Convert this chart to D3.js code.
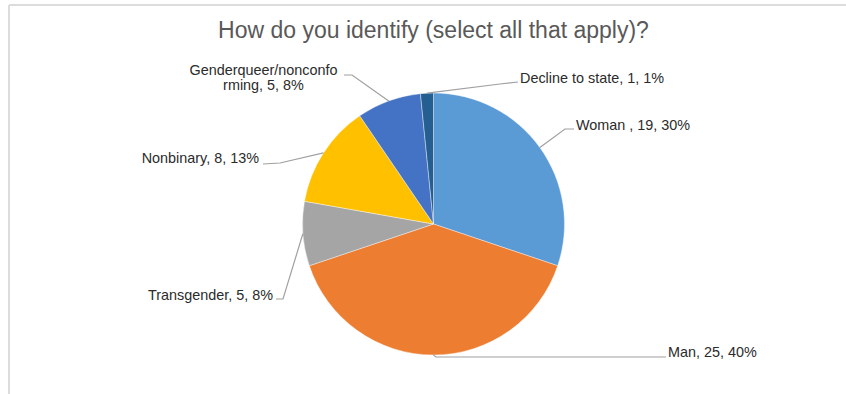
<!doctype html>
<html lang="en">
  <head>
    <meta charset="utf-8">
    <title>How do you identify (select all that apply)?</title>
    <style>
      body { margin: 0; background: #fff; }
      svg { display: block; font-family: "Liberation Sans", Arial, sans-serif; }
    </style>
  </head>
  <body>
    <div id="chart"></div>

    <script src="https://d3js.org/d3.v7.min.js"></script>
    <script>
    // data
    var categories = ["Woman ", "Man", "Transgender", "Nonbinary", "Genderqueer/nonconforming", "Decline to state"];
    var counts = [19, 25, 5, 8, 5, 1];
    var percents = ["30%", "40%", "8%", "13%", "8%", "1%"];
    var colors = ["#5b9bd5", "#ed7d31", "#a5a5a5", "#ffc000", "#4472c4", "#255e91"];

    // label layout: elbow of the leader line, text anchor, and how the text lines break
    var labelLayout = [
      { elbow: [565, 129], end: [574, 129], tx: 576, ty: 130, anchor: "start", lines: null },
      { elbow: [436, 357], end: [666, 357], tx: 668, ty: 357, anchor: "start", lines: null },
      { elbow: [283, 299], end: [276, 299], tx: 273, ty: 300, anchor: "end", lines: null },
      { elbow: [280, 163], end: [263, 164], tx: 259, ty: 163, anchor: "end", lines: null },
      { elbow: [352, 75], end: [344, 75], tx: 263.5, ty: 75, anchor: "middle", lines: ["Genderqueer/nonconfo", "rming, 5, 8%"] },
      { elbow: [500, 84], end: [518, 82], tx: 520, ty: 83, anchor: "start", lines: null }
    ];

    var width = 846, height = 394;
    var cx = 433.5, cy = 224, radius = 131;

    var svg = d3.select("#chart").append("svg")
        .attr("width", width)
        .attr("height", height);

    // chart frame (cut off on the right in the reference)
    svg.append("line")
      .attr("x1", 9).attr("x2", width).attr("y1", 5).attr("y2", 5)
      .attr("stroke", "#dcdcdc").attr("stroke-width", 2);
    svg.append("line")
      .attr("x1", 9).attr("x2", 9).attr("y1", 5).attr("y2", height)
      .attr("stroke", "#dcdcdc").attr("stroke-width", 2);

    svg.append("text")
      .attr("x", cx)
      .attr("y", 38)
      .attr("text-anchor", "middle")
      .attr("font-size", "23px")
      .attr("fill", "#595959")
      .text("How do you identify (select all that apply)?");

    var slices = categories.map(function(c, i) {
      return { name: c, value: counts[i], pct: percents[i], color: colors[i], layout: labelLayout[i] };
    });

    var pie = d3.pie().sort(null).value(function(d) { return d.value; });
    var arc = d3.arc().innerRadius(0).outerRadius(radius);
    var edge = d3.arc().innerRadius(radius).outerRadius(radius);

    var g = svg.append("g").attr("transform", "translate(" + cx + "," + cy + ")");
    var arcs = pie(slices);

    g.selectAll("path.slice")
      .data(arcs)
      .join("path")
      .attr("class", "slice")
      .attr("d", arc)
      .attr("fill", function(d) { return d.data.color; })
      .attr("stroke", "#fff")
      .attr("stroke-width", 0.4);

    // leader lines from the slice edge to the label
    svg.selectAll("polyline.leader")
      .data(arcs)
      .join("polyline")
      .attr("class", "leader")
      .attr("points", function(d) {
        var p = edge.centroid(d);
        var L = d.data.layout;
        return [[cx + p[0], cy + p[1]], L.elbow, L.end].map(function(q) { return q.join(","); }).join(" ");
      })
      .attr("fill", "none")
      .attr("stroke", "#a0a0a0")
      .attr("stroke-width", 1.2);

    var labels = svg.selectAll("text.label")
      .data(arcs)
      .join("text")
      .attr("class", "label")
      .attr("x", function(d) { return d.data.layout.tx; })
      .attr("y", function(d) { return d.data.layout.ty; })
      .attr("text-anchor", function(d) { return d.data.layout.anchor; })
      .attr("font-size", "14.4px")
      .attr("fill", "#2b2b2b");

    labels.each(function(d) {
      var t = d3.select(this);
      var lines = d.data.layout.lines || [d.data.name + ", " + d.data.value + ", " + d.data.pct];
      lines.forEach(function(s, i) {
        t.append("tspan")
          .attr("x", d.data.layout.tx)
          .attr("dy", i === 0 ? 0 : 14.5)
          .text(s);
      });
    });
    </script>
  </body>
</html>
